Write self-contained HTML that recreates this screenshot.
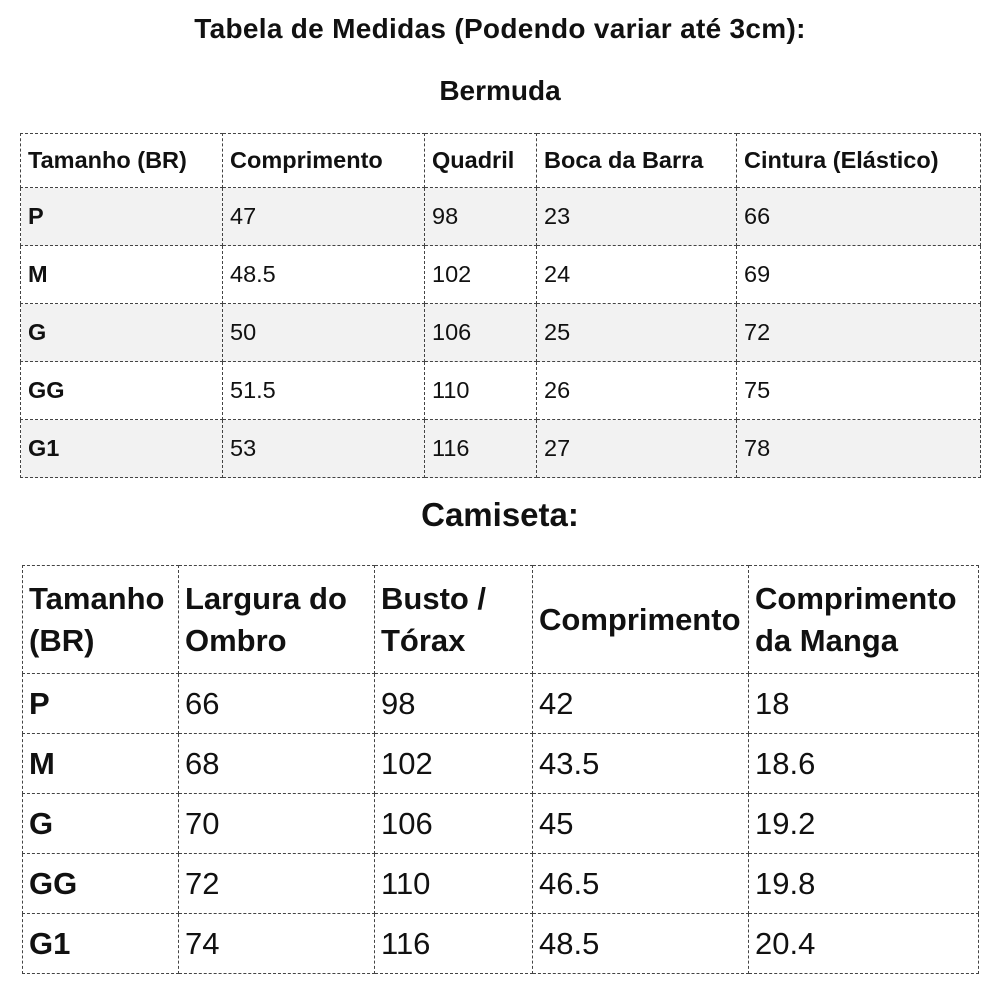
<!DOCTYPE html>
<html><head><meta charset="utf-8"><style>
body{margin:0;width:1000px;height:1000px;background:#fff;font-family:"Liberation Sans","DejaVu Sans",sans-serif;color:#111;position:relative;overflow:hidden}
.t{position:absolute;left:0;width:1000px;text-align:center;font-weight:bold}
table{position:absolute;border-collapse:collapse;table-layout:fixed}
td{border:1.5px dashed #444;padding:0 0 0 7px;vertical-align:middle;white-space:nowrap}
#a td{font-size:23.5px;height:57px}
#a tr.s td{background:#f2f2f2}
#a tr.h td{font-weight:bold;height:53px}
#b td{font-size:31px;padding-left:6px}
#b tr.h td{font-weight:bold;height:107px;line-height:42px;white-space:normal}
#b tr td{height:59px}
td.b{font-weight:bold}
</style></head><body>
<div class="t" style="top:13px;font-size:28px;letter-spacing:0.3px">Tabela de Medidas (Podendo variar até 3cm):</div>
<div class="t" style="top:75px;font-size:28px">Bermuda</div>
<table id="a" style="left:20px;top:133px;width:960px">
<colgroup><col style="width:202px"><col style="width:202px"><col style="width:112px"><col style="width:200px"><col style="width:244px"></colgroup>
<tr class="h"><td>Tamanho (BR)</td><td>Comprimento</td><td>Quadril</td><td>Boca da Barra</td><td>Cintura (Elástico)</td></tr>
<tr class="s"><td class="b">P</td><td>47</td><td>98</td><td>23</td><td>66</td></tr>
<tr><td class="b">M</td><td>48.5</td><td>102</td><td>24</td><td>69</td></tr>
<tr class="s"><td class="b">G</td><td>50</td><td>106</td><td>25</td><td>72</td></tr>
<tr><td class="b">GG</td><td>51.5</td><td>110</td><td>26</td><td>75</td></tr>
<tr class="s"><td class="b">G1</td><td>53</td><td>116</td><td>27</td><td>78</td></tr>
</table>
<div class="t" style="top:496px;font-size:33px">Camiseta:</div>
<table id="b" style="left:22px;top:565px;width:956px">
<colgroup><col style="width:156px"><col style="width:196px"><col style="width:158px"><col style="width:216px"><col style="width:230px"></colgroup>
<tr class="h"><td>Tamanho (BR)</td><td>Largura do Ombro</td><td>Busto / Tórax</td><td>Comprimento</td><td>Comprimento da Manga</td></tr>
<tr><td class="b">P</td><td>66</td><td>98</td><td>42</td><td>18</td></tr>
<tr><td class="b">M</td><td>68</td><td>102</td><td>43.5</td><td>18.6</td></tr>
<tr><td class="b">G</td><td>70</td><td>106</td><td>45</td><td>19.2</td></tr>
<tr><td class="b">GG</td><td>72</td><td>110</td><td>46.5</td><td>19.8</td></tr>
<tr><td class="b">G1</td><td>74</td><td>116</td><td>48.5</td><td>20.4</td></tr>
</table>
</body></html>
